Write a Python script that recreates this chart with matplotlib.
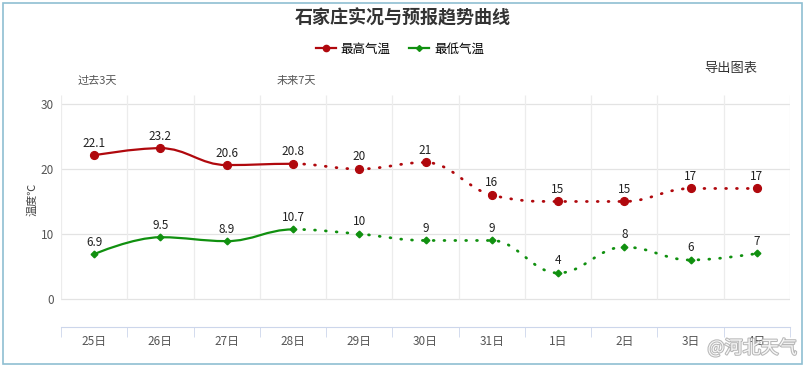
import numpy as np
import matplotlib
matplotlib.use("Agg")
import matplotlib.pyplot as plt
from matplotlib.path import Path
from matplotlib.patches import PathPatch, Rectangle
from matplotlib.lines import Line2D
import matplotlib.patheffects as pe

plt.rcParams['font.family'] = ['Noto Sans CJK SC', 'DejaVu Sans']

days = ["25日", "26日", "27日", "28日", "29日", "30日", "31日", "1日", "2日", "3日", "4日"]
t_high = [22.1, 23.2, 20.6, 20.8, 20, 21, 16, 15, 15, 17, 17]
t_low = [6.9, 9.5, 8.9, 10.7, 10, 9, 9, 4, 8, 6, 7]
n_past = 4  # solid part: 25日..28日

red = "#b0080d"
green = "#10900f"


def spline_ctrl(xs, ys):
    # highcharts-like spline control points, smoothing 1.5
    s = 1.5
    d = s + 1
    n = len(xs)
    left, right = [], []
    for i in range(n):
        x, y = xs[i], ys[i]
        if i == 0 or i == n - 1:
            left.append((x, y))
            right.append((x, y))
            continue
        lx, ly = xs[i - 1], ys[i - 1]
        nx, ny = xs[i + 1], ys[i + 1]
        lcx = (s * x + lx) / d
        lcy = (s * y + ly) / d
        rcx = (s * x + nx) / d
        rcy = (s * y + ny) / d
        corr = (rcy - lcy) * (rcx - x) / (rcx - lcx) + y - rcy
        lcy += corr
        rcy += corr
        if lcy > ly and lcy > y:
            lcy = max(ly, y); rcy = 2 * y - lcy
        elif lcy < ly and lcy < y:
            lcy = min(ly, y); rcy = 2 * y - lcy
        if rcy > ny and rcy > y:
            rcy = max(ny, y); lcy = 2 * y - rcy
        elif rcy < ny and rcy < y:
            rcy = min(ny, y); lcy = 2 * y - rcy
        left.append((lcx, lcy))
        right.append((rcx, rcy))
    return left, right


def spline_path(xs, ys, i0, i1):
    left, right = spline_ctrl(xs, ys)
    verts = [(xs[i0], ys[i0])]
    codes = [Path.MOVETO]
    for i in range(i0 + 1, i1 + 1):
        verts += [right[i - 1], left[i], (xs[i], ys[i])]
        codes += [Path.CURVE4] * 3
    return Path(verts, codes)


fig = plt.figure(figsize=(8.05, 3.67), dpi=100)
W, H = 805, 367
ax = fig.add_axes([61 / W, (H - 327) / H, (790 - 61) / W, (327 - 95) / H])

ymin, ymax = -4.31, 31.38
ax.set_xlim(-0.5, len(days) - 0.5)
ax.set_ylim(ymin, ymax)

# grid
for v in [0, 10, 20, 30]:
    ax.axhline(v, color="#e3e3e3", lw=0.9, zorder=0)
ax.vlines(np.arange(len(days) + 1) - 0.5, 0, ymax, color="#ececec", lw=0.9, zorder=0)

for s in ["top", "right", "left"]:
    ax.spines[s].set_visible(False)
ax.spines["bottom"].set_color("#ccd6eb")

ax.set_xticks(np.arange(len(days)))
ax.set_xticklabels(days, fontsize=8.5, color="#555555")
ax.set_xticks(np.arange(len(days) + 1) - 0.5, minor=True)
ax.tick_params(axis="x", which="major", length=0, pad=6)
ax.tick_params(axis="x", which="minor", length=7, color="#ccd6eb", direction="out")
ax.set_yticks([0, 10, 20, 30])
ax.set_yticklabels(["0", "10", "20", "30"], fontsize=8.5, color="#555555")
ax.tick_params(axis="y", length=0, pad=5)
ax.set_ylabel("温度℃", fontsize=8, color="#444444")
ax.yaxis.set_label_coords(-0.033, 0.55)

x = np.arange(len(days), dtype=float)
for vals, col, mk, ms in [(t_high, red, "o", 5.6), (t_low, green, "D", 3.4)]:
    ys = [float(v) for v in vals]
    solid = spline_path(x, ys, 0, n_past - 1)
    dotted = spline_path(x, ys, n_past - 1, len(days) - 1)
    ax.add_patch(PathPatch(solid, fill=False, edgecolor=col, lw=1.6, zorder=2,
                           capstyle="round"))
    ax.add_patch(PathPatch(dotted, fill=False, edgecolor=col, lw=2.0, zorder=2,
                           linestyle=(0, (0.3, 3.6)), capstyle="round"))
    ax.plot(x, ys, linestyle="none", marker=mk, ms=ms, color=col, zorder=3)
    for xi, v in zip(x, vals):
        ax.annotate("{:g}".format(v), (xi, v), xytext=(0, 4), textcoords="offset points",
                    ha="center", va="bottom", fontsize=8.5, color="#222222", zorder=4)

# titles and notes
fig.text(403 / W, 1 - 18 / H, "石家庄实况与预报趋势曲线", ha="center", va="center",
         fontsize=13, fontweight="bold", color="#333333")
fig.text(97 / W, 1 - 81 / H, "过去3天", ha="center", va="center", fontsize=8, color="#555555")
fig.text(296 / W, 1 - 81 / H, "未来7天", ha="center", va="center", fontsize=8, color="#555555")
fig.text(731 / W, 1 - 68 / H, "导出图表", ha="center", va="center", fontsize=9.5, color="#333333")

handles = [Line2D([], [], color=red, lw=1.6, marker="o", ms=4.5),
           Line2D([], [], color=green, lw=1.6, marker="D", ms=3)]
fig.legend(handles, ["最高气温", "最低气温"], loc="center", bbox_to_anchor=(400 / W, 1 - 49 / H),
           ncol=2, frameon=False, fontsize=9, handlelength=1.6, handletextpad=0.4,
           columnspacing=1.5)

# outer border
fig.patches.append(Rectangle((2.5 / W, 3 / H), 799 / W, 361 / H, transform=fig.transFigure,
                             fill=False, edgecolor="#8fbfd2", lw=1.2))

# watermark
fig.text(752 / W, 1 - 348 / H, "@河北天气", ha="center", va="center", fontsize=13,
         color="white", alpha=0.9,
         path_effects=[pe.withStroke(linewidth=1.5, foreground="#b0b0b0")])

fig.savefig("out.png", dpi=100, facecolor="white")
